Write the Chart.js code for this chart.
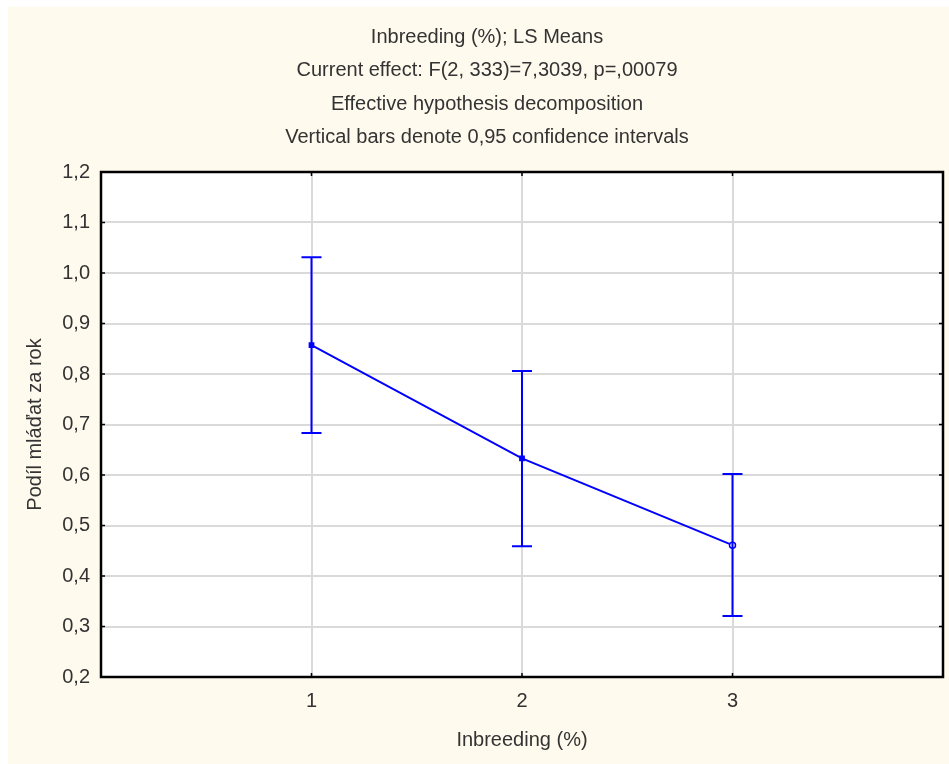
<!DOCTYPE html>
<html>
<head>
<meta charset="utf-8">
<title>Inbreeding (%); LS Means</title>
<script src="https://cdn.jsdelivr.net/npm/chart.js@4.4.1/dist/chart.umd.min.js"></script>
<style>
    html, body { margin: 0; padding: 0; background: #ffffff; }
    #lsChart { display: block; }
</style>
</head>
<body>
<canvas id="lsChart" width="949" height="764"></canvas>
<script>
// data
const categories = [1, 2, 3];
const means = [0.857, 0.633, 0.461];
const lowerCI = [0.683, 0.459, 0.321];
const upperCI = [1.031, 0.806, 0.602];
const yTicks = [0.2, 0.3, 0.4, 0.5, 0.6, 0.7, 0.8, 0.9, 1.0, 1.1, 1.2];
const titleLines = [
    'Inbreeding (%); LS Means',
    'Current effect: F(2, 333)=7,3039, p=,00079',
    'Effective hypothesis decomposition',
    'Vertical bars denote 0,95 confidence intervals'
];

const fontFamily = '"Liberation Sans", Arial, sans-serif';
const blue = '#0000ff';

// cream page, white plot area, frame with inner ticks
const backgroundPlugin = {
    id: 'background',
    beforeDraw(chart) {
        const c = chart.ctx;
        const a = chart.chartArea;
        c.save();
        c.fillStyle = '#fffaee';
        c.fillRect(8, 7, chart.width - 8, chart.height - 7);
        c.fillStyle = '#ffffff';
        c.fillRect(a.left, a.top, a.right - a.left, a.bottom - a.top);
        c.restore();
    },
    afterDraw(chart) {
        const c = chart.ctx;
        const a = chart.chartArea;
        const x = chart.scales.x;
        const y = chart.scales.y;
        c.save();
        c.strokeStyle = '#000000';
        c.lineWidth = 1.5;
        c.beginPath();
        y.ticks.forEach(t => {
            const py = y.getPixelForValue(t.value);
            c.moveTo(a.left, py); c.lineTo(a.left + 4, py);
            c.moveTo(a.right, py); c.lineTo(a.right - 4, py);
        });
        x.ticks.forEach(t => {
            const px = x.getPixelForValue(t.value);
            c.moveTo(px, a.bottom); c.lineTo(px, a.bottom - 4);
            c.moveTo(px, a.top); c.lineTo(px, a.top + 4);
        });
        c.stroke();
        c.lineWidth = 2.5;
        c.strokeRect(a.left, a.top, a.right - a.left, a.bottom - a.top);

        // title block
        c.fillStyle = '#333333';
        c.font = '20px ' + fontFamily;
        c.textAlign = 'center';
        c.textBaseline = 'alphabetic';
        const baselines = [43, 76, 110, 143];
        titleLines.forEach((line, i) => {
            c.fillText(line, 487, baselines[i]);
        });
        c.restore();
    }
};

// confidence interval whiskers
const errorBarPlugin = {
    id: 'errorBars',
    afterDatasetsDraw(chart) {
        const c = chart.ctx;
        const x = chart.scales.x;
        const y = chart.scales.y;
        c.save();
        c.strokeStyle = blue;
        c.lineWidth = 2;
        c.beginPath();
        categories.forEach((cat, i) => {
            const px = x.getPixelForValue(cat);
            const lo = y.getPixelForValue(lowerCI[i]);
            const hi = y.getPixelForValue(upperCI[i]);
            c.moveTo(px, lo); c.lineTo(px, hi);
            c.moveTo(px - 10, hi); c.lineTo(px + 10, hi);
            c.moveTo(px - 10, lo); c.lineTo(px + 10, lo);
        });
        c.stroke();
        c.restore();
    }
};

const ctx = document.getElementById('lsChart').getContext('2d');
const lsChart = new Chart(ctx, {
    type: 'line',
    data: {
        datasets: [{
            data: categories.map((cat, i) => ({ x: cat, y: means[i] })),
            borderColor: blue,
            borderWidth: 2,
            pointStyle: ['rect', 'rect', 'circle'],
            pointRadius: 3,
            pointBorderWidth: 1.5,
            pointBorderColor: blue,
            pointBackgroundColor: [blue, blue, '#ffffff'],
            fill: false,
            tension: 0
        }]
    },
    options: {
        responsive: false,
        animation: false,
        events: [],
        layout: {
            padding: { left: 0, right: 6, top: 172, bottom: 0 }
        },
        plugins: {
            legend: { display: false },
            title: { display: false },
            tooltip: { enabled: false }
        },
        scales: {
            x: {
                type: 'linear',
                min: 0,
                max: 4,
                afterBuildTicks(scale) {
                    scale.ticks = categories.map(v => ({ value: v }));
                },
                afterFit(scale) { scale.height = 87; },
                grid: { color: '#dadada', lineWidth: 2, drawTicks: false },
                border: { display: false },
                ticks: {
                    padding: 12,
                    color: '#333333',
                    font: { family: fontFamily, size: 20 },
                    callback: v => String(v)
                },
                title: {
                    display: true,
                    text: 'Inbreeding (%)',
                    color: '#333333',
                    font: { family: fontFamily, size: 20 },
                    padding: { top: 0, bottom: 12 }
                }
            },
            y: {
                type: 'linear',
                min: 0.2,
                max: 1.2,
                afterBuildTicks(scale) {
                    scale.ticks = yTicks.map(v => ({ value: v }));
                },
                afterFit(scale) { scale.width = 101; },
                grid: { color: '#dadada', lineWidth: 2, drawTicks: false },
                border: { display: false },
                ticks: {
                    padding: 11,
                    color: '#333333',
                    font: { family: fontFamily, size: 20 },
                    callback: v => v.toFixed(1).replace('.', ',')
                },
                title: {
                    display: true,
                    text: 'Podíl mláďat za rok',
                    color: '#333333',
                    font: { family: fontFamily, size: 20 },
                    padding: { top: 23, bottom: 0 }
                }
            }
        }
    },
    plugins: [backgroundPlugin, errorBarPlugin]
});
</script>
</body>
</html>
